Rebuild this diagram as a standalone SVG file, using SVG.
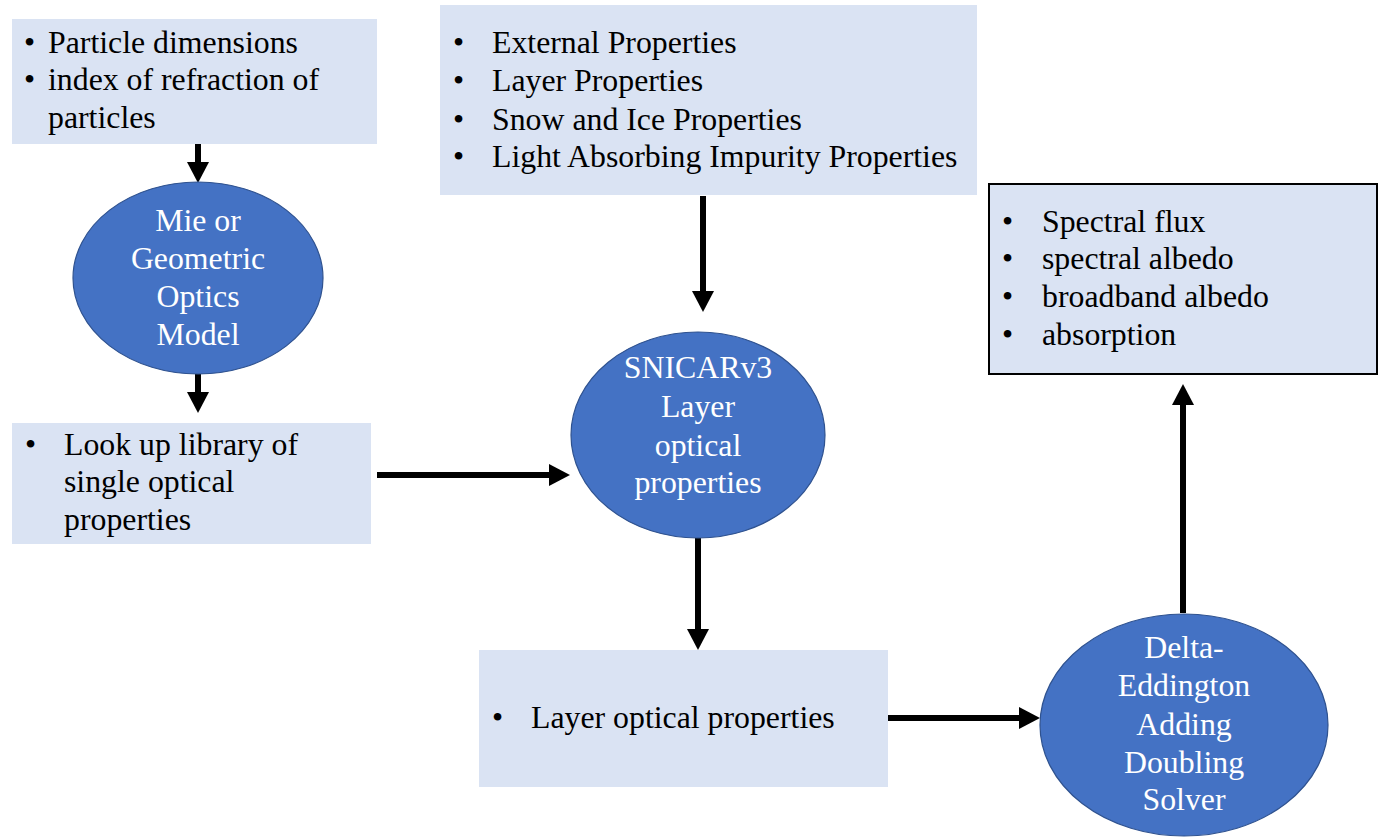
<svg xmlns="http://www.w3.org/2000/svg" width="1381" height="837" viewBox="0 0 1381 837">
<style>
.box{fill:#DAE3F3;}
.boxs{fill:#DAE3F3;stroke:#000;stroke-width:2;}
.ell{fill:#4472C4;stroke:#2F528F;stroke-width:1.2;}
.t{font-family:"Liberation Serif","Times New Roman",serif;font-size:31.8px;fill:#000;}
.w{font-family:"Liberation Serif","Times New Roman",serif;font-size:31.8px;fill:#fff;text-anchor:middle;}
.c{stroke:#000;stroke-width:6;fill:none;marker-end:url(#ah);}
</style>
<defs>
<marker id="ah" markerUnits="userSpaceOnUse" markerWidth="22" markerHeight="24" refX="0" refY="11" orient="auto" viewBox="0 0 22 22">
<path d="M0,0 L21,11 L0,22 Z" fill="#000"/>
</marker>
</defs>

<g id="connectors">
<line class="c" x1="198" y1="144" x2="198" y2="162"/>
<line class="c" x1="198" y1="374" x2="198" y2="392"/>
<line class="c" x1="377" y1="475" x2="549" y2="475"/>
<line class="c" x1="703" y1="196" x2="703" y2="291"/>
<line class="c" x1="698" y1="538" x2="698" y2="629"/>
<line class="c" x1="888" y1="718" x2="1019" y2="718"/>
<line class="c" x1="1183" y1="613" x2="1183" y2="405"/>
</g>

<g id="inputs-particles">
<rect class="box" x="12" y="19" width="365" height="125"/>
<text class="t" x="24" y="53">•</text>
<text class="t" x="48" y="53">Particle dimensions</text>
<text class="t" x="24" y="90">•</text>
<text class="t" x="48" y="90">index of refraction of</text>
<text class="t" x="48" y="128">particles</text>
</g>

<g id="mie-model">
<ellipse class="ell" cx="198" cy="278" rx="125" ry="96"/>
<text class="w" x="198" y="231">Mie or</text>
<text class="w" x="198" y="269">Geometric</text>
<text class="w" x="198" y="307">Optics</text>
<text class="w" x="198" y="345">Model</text>
</g>

<g id="lookup-library">
<rect class="box" x="12" y="423" width="359" height="121"/>
<text class="t" x="25" y="455">•</text>
<text class="t" x="64" y="455">Look up library of</text>
<text class="t" x="64" y="492">single optical</text>
<text class="t" x="64" y="530">properties</text>
</g>

<g id="inputs-properties">
<rect class="box" x="440" y="5" width="537" height="190"/>
<text class="t" x="453" y="53">•</text>
<text class="t" x="492" y="53">External Properties</text>
<text class="t" x="453" y="91">•</text>
<text class="t" x="492" y="91">Layer Properties</text>
<text class="t" x="453" y="130">•</text>
<text class="t" x="492" y="130">Snow and Ice Properties</text>
<text class="t" x="453" y="167">•</text>
<text class="t" x="492" y="167">Light Absorbing Impurity Properties</text>
</g>

<g id="snicar">
<ellipse class="ell" cx="698" cy="435" rx="127" ry="103"/>
<text class="w" x="698" y="378">SNICARv3</text>
<text class="w" x="698" y="417">Layer</text>
<text class="w" x="698" y="456">optical</text>
<text class="w" x="698" y="493">properties</text>
</g>

<g id="layer-optical">
<rect class="box" x="479" y="650" width="409" height="137"/>
<text class="t" x="492" y="728">•</text>
<text class="t" x="531" y="728">Layer optical properties</text>
</g>

<g id="solver">
<ellipse class="ell" cx="1184" cy="725" rx="144" ry="111"/>
<text class="w" x="1184" y="658">Delta-</text>
<text class="w" x="1184" y="696">Eddington</text>
<text class="w" x="1184" y="735">Adding</text>
<text class="w" x="1184" y="773">Doubling</text>
<text class="w" x="1184" y="810">Solver</text>
</g>

<g id="outputs">
<rect class="boxs" x="989" y="184" width="388" height="190"/>
<text class="t" x="1002" y="232">•</text>
<text class="t" x="1042" y="232">Spectral flux</text>
<text class="t" x="1002" y="269">•</text>
<text class="t" x="1042" y="269">spectral albedo</text>
<text class="t" x="1002" y="307">•</text>
<text class="t" x="1042" y="307">broadband albedo</text>
<text class="t" x="1002" y="345">•</text>
<text class="t" x="1042" y="345">absorption</text>
</g>
</svg>
